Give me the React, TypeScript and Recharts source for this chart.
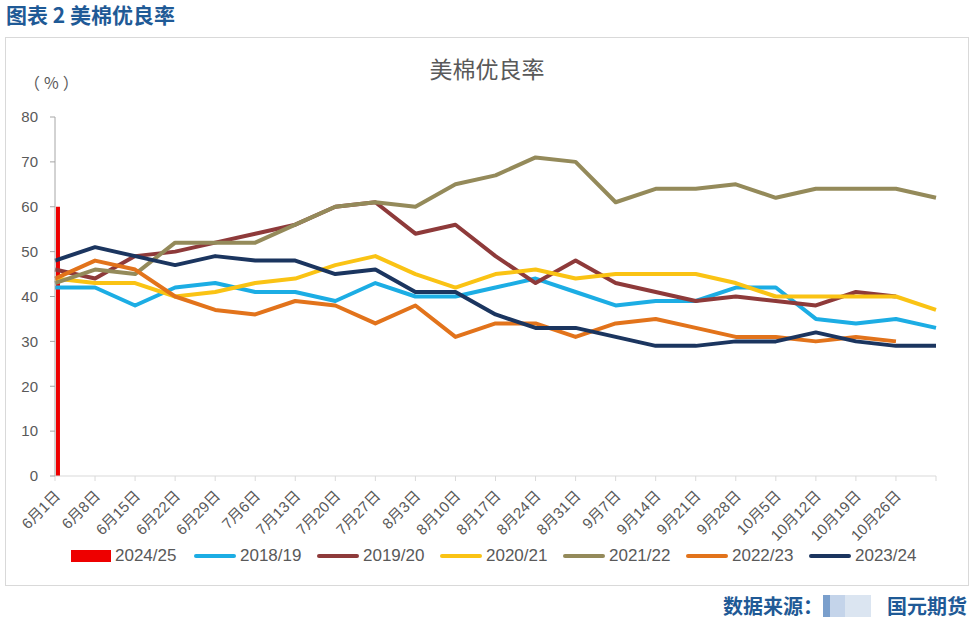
import { Bar, ComposedChart, Line, Rectangle, XAxis, YAxis } from 'recharts';

// week labels (last point has no label in the source)
const categories = [
  '6月1日', '6月8日', '6月15日', '6月22日', '6月29日', '7月6日', '7月13日', '7月20日',
  '7月27日', '8月3日', '8月10日', '8月17日', '8月24日', '8月31日', '9月7日', '9月14日',
  '9月21日', '9月28日', '10月5日', '10月12日', '10月19日', '10月26日', '',
];

const s2024 = [60];
const s2018 = [42, 42, 38, 42, 43, 41, 41, 39, 43, 40, 40, 42, 44, 41, 38, 39, 39, 42, 42, 35, 34, 35, 33];
const s2019 = [46, 44, 49, 50, 52, 54, 56, 60, 61, 54, 56, 49, 43, 48, 43, 41, 39, 40, 39, 38, 41, 40, null];
const s2020 = [44, 43, 43, 40, 41, 43, 44, 47, 49, 45, 42, 45, 46, 44, 45, 45, 45, 43, 40, 40, 40, 40, 37];
const s2021 = [43, 46, 45, 52, 52, 52, 56, 60, 61, 60, 65, 67, 71, 70, 61, 64, 64, 65, 62, 64, 64, 64, 62];
const s2022 = [44, 48, 46, 40, 37, 36, 39, 38, 34, 38, 31, 34, 34, 31, 34, 35, 33, 31, 31, 30, 31, 30, null];
const s2023 = [48, 51, 49, 47, 49, 48, 48, 45, 46, 41, 41, 36, 33, 33, 31, 29, 29, 30, 30, 32, 30, 29, 29];

const yTicks = [0, 10, 20, 30, 40, 50, 60, 70, 80];

const lines = [
  { key: 's2018', name: '2018/19', color: '#1CADE4' },
  { key: 's2019', name: '2019/20', color: '#8E3A3A' },
  { key: 's2020', name: '2020/21', color: '#FAC314' },
  { key: 's2021', name: '2021/22', color: '#948A5A' },
  { key: 's2022', name: '2022/23', color: '#E2731B' },
  { key: 's2023', name: '2023/24', color: '#1B355F' },
];

const data = categories.map((cat, i) => ({
  idx: i,
  cat,
  s2024: s2024[i] ?? null,
  s2018: s2018[i] ?? null,
  s2019: s2019[i] ?? null,
  s2020: s2020[i] ?? null,
  s2021: s2021[i] ?? null,
  s2022: s2022[i] ?? null,
  s2023: s2023[i] ?? null,
}));

const font = '"Liberation Sans", "Noto Sans CJK SC", sans-serif';
const cjk = '"Noto Sans CJK SC", sans-serif';
const gray = '#595959';
const blue = '#1F5A96';

function XTick({ x, y, payload }: any) {
  const label = categories[payload.value] ?? '';
  return (
    <g transform={`translate(${x + 6},${y + 14})`}>
      <text textAnchor="end" transform="rotate(-45)" fontSize={15} fill={gray} fontFamily={font}>
        {label}
      </text>
    </g>
  );
}

// excel draws the single column just right of the axis
function RedBar(props: any) {
  return <Rectangle {...props} x={props.x + props.width / 2 + 1} />;
}

export default function App() {
  return (
    <div
      style={{
        position: 'absolute',
        left: 0,
        top: 0,
        width: 974,
        height: 620,
        background: '#fff',
        fontFamily: font,
      }}
    >
      <div
        style={{
          position: 'absolute',
          left: 6,
          top: 1,
          fontSize: 21,
          lineHeight: '26px',
          fontWeight: 'bold',
          color: blue,
          fontFamily: cjk,
        }}
      >
        图表 2 美棉优良率
      </div>
      <div
        style={{
          position: 'absolute',
          left: 5,
          top: 37,
          width: 962,
          height: 547,
          border: '1px solid #d9d9d9',
        }}
      />
      <div
        style={{
          position: 'absolute',
          left: 0,
          width: 974,
          top: 51,
          textAlign: 'center',
          fontSize: 23,
          color: gray,
          fontFamily: cjk,
        }}
      >
        美棉优良率
      </div>
      <div
        style={{
          position: 'absolute',
          left: 24,
          top: 70,
          fontSize: 16,
          letterSpacing: 4,
          color: gray,
          fontFamily: cjk,
        }}
      >
        （%）
      </div>

      <div style={{ position: 'absolute', left: 0, top: 0 }}>
        <ComposedChart width={974} height={620} data={data} margin={{ top: 117, right: 38, bottom: 84, left: 10 }}>
          <XAxis
            type="number"
            dataKey="idx"
            domain={[0, categories.length - 1]}
            ticks={categories.map((_, i) => i)}
            interval={0}
            tick={<XTick />}
            tickLine={{ stroke: '#d9d9d9' }}
            axisLine={{ stroke: '#d9d9d9' }}
            tickSize={5}
            height={60}
          />
          <YAxis
            domain={[0, 80]}
            ticks={yTicks}
            interval={0}
            width={45}
            tickSize={5}
            tickMargin={12}
            tick={{ fontSize: 15, fill: gray, fontFamily: font }}
            tickLine={{ stroke: '#a6a6a6' }}
            axisLine={{ stroke: '#a6a6a6' }}
          />
          <Bar dataKey="s2024" name="2024/25" fill="#EE0000" barSize={4} shape={<RedBar />} isAnimationActive={false} />
          {lines.map((l) => (
            <Line
              key={l.key}
              type="linear"
              dataKey={l.key}
              name={l.name}
              stroke={l.color}
              strokeWidth={4}
              strokeLinejoin="round"
              dot={false}
              activeDot={false}
              isAnimationActive={false}
            />
          ))}
        </ComposedChart>
      </div>

      {/* legend */}
      <div style={{ position: 'absolute', left: 71, top: 546, display: 'flex', alignItems: 'center', fontSize: 17, color: gray }}>
        <div style={{ display: 'flex', alignItems: 'center', width: 123 }}>
          <div style={{ width: 40, height: 12, background: '#EE0000', marginRight: 4 }} />
          <span>2024/25</span>
        </div>
        {lines.map((l) => (
          <div key={l.key} style={{ display: 'flex', alignItems: 'center', width: 123 }}>
            <div style={{ width: 42, height: 4, borderRadius: 2, background: l.color, marginRight: 4 }} />
            <span>{l.name}</span>
          </div>
        ))}
      </div>

      {/* footer */}
      <div
        style={{
          position: 'absolute',
          right: 7,
          top: 595,
          display: 'flex',
          alignItems: 'center',
          fontSize: 20,
          lineHeight: '22px',
          fontWeight: 'bold',
          color: blue,
          fontFamily: cjk,
        }}
      >
        <span>数据来源：</span>
        <div
          style={{
            width: 48,
            height: 22,
            marginRight: 16,
            background: 'linear-gradient(to right, #7a9fcc 0 14%, #c4d4ea 14% 45%, #dbe5f1 45%)',
          }}
        />
        <span>国元期货</span>
      </div>
    </div>
  );
}
